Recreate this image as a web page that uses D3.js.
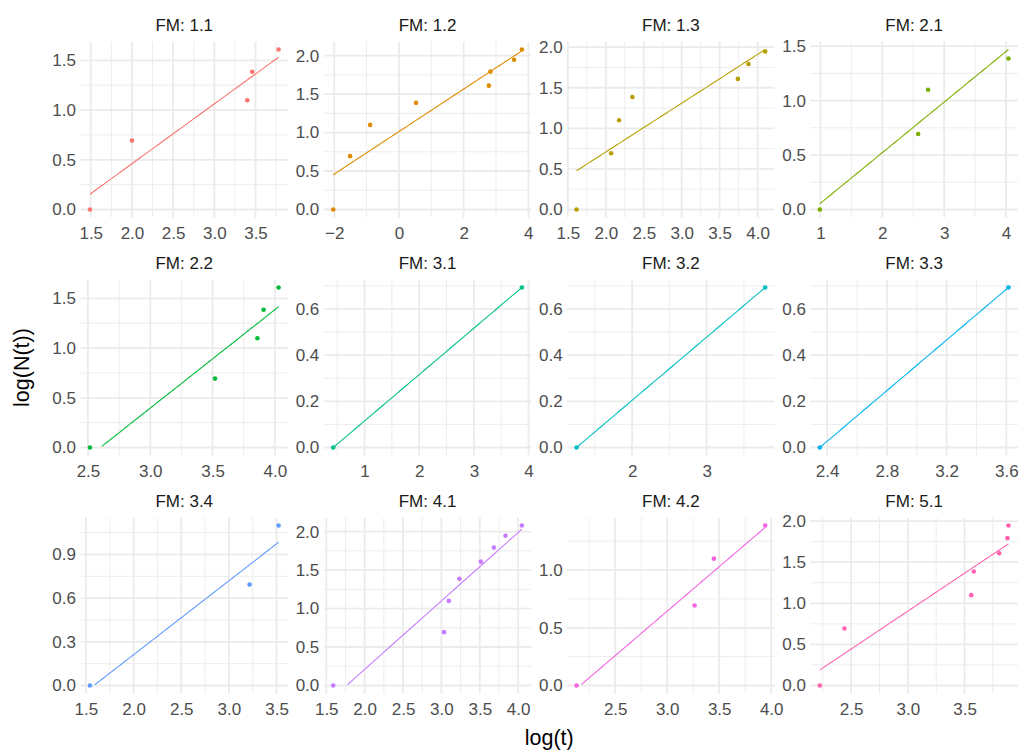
<!DOCTYPE html>
<html><head><meta charset="utf-8">
<script src="https://cdn.jsdelivr.net/npm/d3@7"></script>
<style>body{margin:0;background:#fff}</style>
</head><body>
<svg id="chart" width="1022" height="751"></svg>
<script>
// ---------- data ----------
const facetLabels = ["FM: 1.1","FM: 1.2","FM: 1.3","FM: 2.1","FM: 2.2","FM: 3.1","FM: 3.2","FM: 3.3","FM: 3.4","FM: 4.1","FM: 4.2","FM: 5.1"];
const colors = ["#F8766D","#DE8C00","#B79F00","#7CAE00","#00BA38","#00C08B","#00BFC4","#00B4F0","#619CFF","#C77CFF","#F564E3","#FF64B0"];
const logT = [
  [1.49, 2.00, 3.40, 3.46, 3.78],
  [-2.03, -1.51, -0.89, 0.53, 2.78, 2.83, 3.56, 3.80],
  [1.614, 2.07, 2.175, 2.35, 3.74, 3.88, 4.10],
  [0.99, 2.58, 2.74, 4.04],
  [2.516, 3.52, 3.86, 3.91, 4.03],
  [0.427, 3.878],
  [1.254, 3.786],
  [2.351, 3.614],
  [1.542, 3.217, 3.521],
  [1.591, 3.035, 3.096, 3.235, 3.513, 3.683, 3.835, 4.048],
  [2.128, 3.263, 3.449, 3.942],
  [2.224, 2.441, 3.559, 3.582, 3.805, 3.878, 3.887]
];
const logN = [
  [0, 0.693, 1.099, 1.386, 1.609],
  [0, 0.693, 1.099, 1.386, 1.609, 1.792, 1.946, 2.079],
  [0, 0.693, 1.099, 1.386, 1.609, 1.792, 1.946],
  [0, 0.693, 1.099, 1.386],
  [0, 0.693, 1.099, 1.386, 1.609],
  [0, 0.693],
  [0, 0.693],
  [0, 0.693],
  [0, 0.693, 1.099],
  [0, 0.693, 1.099, 1.386, 1.609, 1.792, 1.946, 2.079],
  [0, 0.693, 1.099, 1.386],
  [0, 0.693, 1.099, 1.386, 1.609, 1.792, 1.946]
];
const xTicks = [
  [1.5,2,2.5,3,3.5],[-2,0,2,4],[1.5,2,2.5,3,3.5,4],[1,2,3,4],
  [2.5,3,3.5,4],[1,2,3,4],[2,3],[2.4,2.8,3.2,3.6],
  [1.5,2,2.5,3,3.5],[1.5,2,2.5,3,3.5,4],[2.5,3,3.5,4],[2.5,3,3.5]
];
const xDecimals = [1,0,1,0,1,0,0,1,1,1,1,1];
const yTicks = [
  [0,0.5,1,1.5],[0,0.5,1,1.5,2],[0,0.5,1,1.5,2],[0,0.5,1,1.5],
  [0,0.5,1,1.5],[0,0.2,0.4,0.6],[0,0.2,0.4,0.6],[0,0.2,0.4,0.6],
  [0,0.3,0.6,0.9],[0,0.5,1,1.5,2],[0,0.5,1],[0,0.5,1,1.5,2]
];
const xTitle = "log(t)";
const yTitle = "log(N(t))";

// ---------- layout ----------
const FONT = "'Liberation Sans', Arial, Helvetica, sans-serif";
const ncol = 4;
const panelW = 207.5, panelH = 176;
const left0 = 80.5, colStep = 243.3;
const top0 = 41.5, rowStep = 238;

const svg = d3.select("#chart");
svg.append("rect").attr("width",1022).attr("height",751).attr("fill","#fff");

function minorBreaks(b, dom){
  const s = b[1]-b[0];
  const ext = [b[0]-s, ...b, b[b.length-1]+s];
  const m = [];
  for(let i=0;i<ext.length-1;i++) m.push((ext[i]+ext[i+1])/2);
  return m.filter(v => v>=dom[0] && v<=dom[1]);
}

function lmFit(xs, ys){
  const mx = d3.mean(xs), my = d3.mean(ys);
  let sxy=0, sxx=0;
  xs.forEach((x,i)=>{ sxy += (x-mx)*(ys[i]-my); sxx += (x-mx)*(x-mx); });
  const b = sxy/sxx, a = my - b*mx;
  return x => a + b*x;
}

facetLabels.forEach((lab, i) => {
  const r = Math.floor(i/ncol), c = i % ncol;
  const px = left0 + c*colStep, py = top0 + r*rowStep;
  const xs = logT[i], ys = logN[i];
  const pts = xs.map((x,k)=>({x, y: ys[k]}));

  // smooth (lm) evaluated on 80 points, values below y-limit 0 dropped
  const f = lmFit(xs, ys);
  const [xmin, xmax] = d3.extent(xs);
  const grid = d3.range(80).map(k => xmin + (xmax-xmin)*k/79);
  const fitPts = grid.map(x => ({x, y: f(x)})).filter(d => d.y >= -1e-9);

  const yMax = Math.max(d3.max(ys), d3.max(fitPts, d=>d.y));
  const yDom = [0 - 0.05*yMax, yMax*1.05];
  const xr = xmax - xmin;
  const xDom = [xmin - 0.05*xr, xmax + 0.05*xr];

  const x = d3.scaleLinear().domain(xDom).range([0, panelW]);
  const y = d3.scaleLinear().domain(yDom).range([panelH, 0]);

  const g = svg.append("g").attr("transform", `translate(${px},${py})`);

  // minor grid
  const xm = minorBreaks(xTicks[i], xDom), ym = minorBreaks(yTicks[i], yDom);
  g.selectAll(".vmin").data(xm).join("line")
    .attr("x1", d=>x(d)).attr("x2", d=>x(d)).attr("y1",0).attr("y2",panelH)
    .attr("stroke","#EBEBEB").attr("stroke-width",0.9);
  g.selectAll(".hmin").data(ym).join("line")
    .attr("y1", d=>y(d)).attr("y2", d=>y(d)).attr("x1",0).attr("x2",panelW)
    .attr("stroke","#EBEBEB").attr("stroke-width",0.9);
  // major grid
  g.selectAll(".vmaj").data(xTicks[i]).join("line")
    .attr("x1", d=>x(d)).attr("x2", d=>x(d)).attr("y1",0).attr("y2",panelH)
    .attr("stroke","#EBEBEB").attr("stroke-width",1.8);
  g.selectAll(".hmaj").data(yTicks[i]).join("line")
    .attr("y1", d=>y(d)).attr("y2", d=>y(d)).attr("x1",0).attr("x2",panelW)
    .attr("stroke","#EBEBEB").attr("stroke-width",1.8);

  // axes
  const fx = d3.format(`.${xDecimals[i]}f`), fy = d3.format(".1f");
  const ax = g.append("g").attr("transform", `translate(0,${panelH})`)
    .call(d3.axisBottom(x).tickValues(xTicks[i]).tickFormat(fx).tickSize(0).tickPadding(9.5));
  const ay = g.append("g")
    .call(d3.axisLeft(y).tickValues(yTicks[i]).tickFormat(fy).tickSize(0).tickPadding(4.5));
  [ax, ay].forEach(a => {
    a.select(".domain").remove();
    a.selectAll("text").attr("font-family", FONT).attr("font-size", "17px").attr("fill", "#4D4D4D");
  });

  // smooth line
  g.append("path").datum(fitPts)
    .attr("d", d3.line().x(d=>x(d.x)).y(d=>y(d.y)))
    .attr("fill","none").attr("stroke", colors[i]).attr("stroke-width",1.1);

  // points
  g.selectAll(".pt").data(pts).join("circle")
    .attr("cx", d=>x(d.x)).attr("cy", d=>y(d.y)).attr("r", 2.3)
    .attr("fill", colors[i]);

  // strip title
  g.append("text").attr("x", panelW/2).attr("y", -10.5)
    .attr("text-anchor","middle").attr("font-family", FONT).attr("font-size","17px")
    .attr("fill","#1A1A1A").text(lab);
});

// axis titles
const plotLeft = left0, plotRight = left0 + 3*colStep + panelW;
const plotTop = top0, plotBottom = top0 + 2*rowStep + panelH;
svg.append("text").attr("x", (plotLeft+plotRight)/2).attr("y", 745)
  .attr("text-anchor","middle").attr("font-family", FONT).attr("font-size","21.5px")
  .attr("fill","#000").text(xTitle);
svg.append("text")
  .attr("transform", `translate(29,${(plotTop+plotBottom)/2}) rotate(-90)`)
  .attr("text-anchor","middle").attr("font-family", FONT).attr("font-size","21.5px")
  .attr("fill","#000").text(yTitle);
</script>
</body></html>
